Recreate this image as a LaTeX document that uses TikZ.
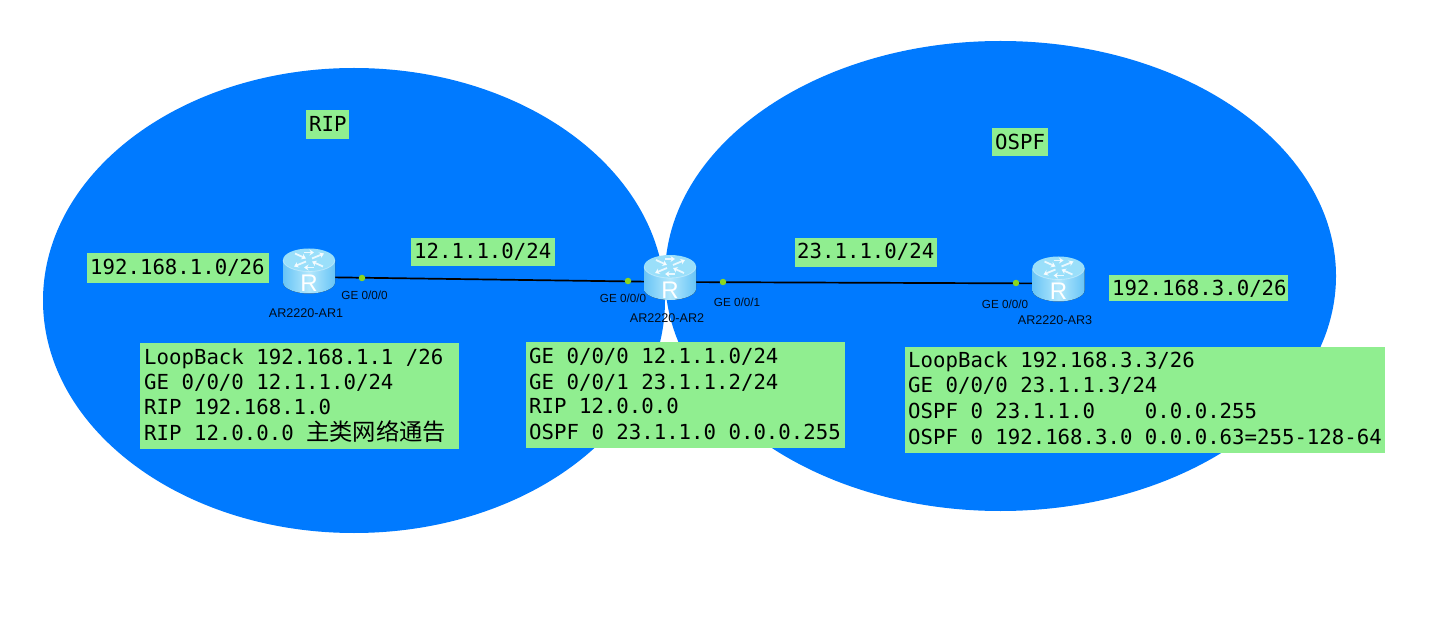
\documentclass[tikz,border=0pt]{standalone}
\usepackage{fontspec}
\usetikzlibrary{arrows.meta}
\setmainfont{Liberation Sans}
\setmonofont{DejaVu Sans Mono}
\newfontfamily\cjk{Noto Sans CJK SC}
\definecolor{zone}{HTML}{007AFF}
\definecolor{lab}{HTML}{90EE90}
\definecolor{dotc}{HTML}{8CD61E}
\definecolor{rtop}{HTML}{9ADFFA}
\definecolor{rside}{HTML}{68C4F6}
\definecolor{rsideb}{HTML}{B4E8FC}
\tikzset{
 x=1pt,y=-1pt,
 labtxt/.style={font=\ttfamily\fontsize{20.7}{26}\selectfont,anchor=base west,inner sep=0pt,text=black,yshift=-1pt},
 port/.style={font=\fontsize{11.7}{12}\selectfont,inner sep=0pt,text=black!90!zone},
 rname/.style={font=\fontsize{12.6}{12}\selectfont,inner sep=0pt,text=black!90!zone},
 pdot/.style={circle,fill=dotc,inner sep=0pt,minimum size=6.5pt},
 link/.style={draw=black,line width=1.7pt},
 rnode/.style={inner sep=0pt,minimum size=1pt},
 rarrow/.style={white,opacity=.8,line width=1.8pt,-{Stealth[length=4.5pt,width=6pt]}},
 pics/routerpic/.style={code={
  \fill[left color=rside,right color=rside,middle color=rsideb]
    (-26,-15) -- (-26,7) .. controls (-26,13) and (-14,18) .. (0,18)
    .. controls (14,18) and (26,13) .. (26,7) -- (26,-15) -- cycle;
  \fill[rtop] (0,-15.5) ellipse[x radius=26,y radius=11.5];
  \draw[white,opacity=.35,line width=.8pt] (-26,-15.5) .. controls (-26,-9) and (-14,-4) .. (0,-4)
    .. controls (14,-4) and (26,-9) .. (26,-15.5);
  \draw[rarrow] (-14,-22) -- (-3,-17);
  \draw[rarrow] (-3,-14) -- (-15,-9);
  \draw[rarrow] (14,-9) -- (3,-14);
  \draw[rarrow] (3,-17) -- (15,-22);
  \draw[rarrow] (-5,-23) -- (5,-23);
  \draw[rarrow] (5,-8) -- (-5,-8);
  \node[white,inner sep=0pt,font=\fontsize{24}{24}\selectfont] at (0,8) {R};
 }}
}
\begin{document}
\begin{tikzpicture}
\useasboundingbox (0,0) rectangle (1446,620);
\fill[white] (0,0) rectangle (1446,620);
\fill[zone] (354,300.5) ellipse[x radius=311,y radius=232.5];
\fill[zone] (1000.5,276) ellipse[x radius=335.5,y radius=235];

\node[rnode] (r1) at (309,277) {};
\node[rnode] (r2) at (670,282) {};
\node[rnode] (r3) at (1058.5,283.5) {};
\draw[link] (r1) -- (r2);
\draw[link] (r2) -- (r3);
\pic[yshift=1.5pt] at (r1) {routerpic};
\pic at (r2) {routerpic};
\pic at (r3) {routerpic};
\node[pdot] (d1) at (362,278) {};
\node[pdot] (d2) at (628,281) {};
\node[pdot] (d3) at (723,282) {};
\node[pdot] (d4) at (1016,283) {};
\node[port] (p1) at (364.5,295) {GE 0/0/0};
\node[port] (p2) at (623,298) {GE 0/0/0};
\node[port] (p3) at (737,302) {GE 0/0/1};
\node[port] (p4) at (1005,304) {GE 0/0/0};
\node[rname] (n1) at (306,313) {AR2220-AR1};
\node[rname] (n2) at (667,318) {AR2220-AR2};
\node[rname] (n3) at (1055,320) {AR2220-AR3};

\fill[lab] (306,110) rectangle (349,139);
\node[labtxt] (t1) at (309,131) {RIP};
\fill[lab] (992,128) rectangle (1048,156);
\node[labtxt] (t2) at (995,149) {OSPF};
\fill[lab] (87,253) rectangle (269,283);
\node[labtxt] (t3) at (90,274) {192.168.1.0/26};
\fill[lab] (411,238) rectangle (555,266);
\node[labtxt] (t4) at (414,258) {12.1.1.0/24};
\fill[lab] (795,238) rectangle (937,267);
\node[labtxt] (t5) at (797,258) {23.1.1.0/24};
\fill[lab] (1109,275) rectangle (1288,301);
\node[labtxt] (t6) at (1112,295) {192.168.3.0/26};

\fill[lab] (140,343) rectangle (459,449);
\node[labtxt] (a1) at (144,363) {LoopBack 192.168.1.1 /26};
\node[labtxt] (a2) at (144,388.5) {GE 0/0/0 12.1.1.0/24};
\node[labtxt] (a3) at (144,413.5) {RIP 192.168.1.0};
\node[labtxt] (a4) at (144,439.5) {RIP 12.0.0.0 {\cjk\fontsize{23.3}{26}\selectfont 主类网络通告}};

\fill[lab] (526,342) rectangle (845,448);
\node[labtxt] (b1) at (529,362) {GE 0/0/0 12.1.1.0/24};
\node[labtxt] (b2) at (529,388) {GE 0/0/1 23.1.1.2/24};
\node[labtxt] (b3) at (529,412.5) {RIP 12.0.0.0};
\node[labtxt] (b4) at (529,438.5) {OSPF 0 23.1.1.0 0.0.0.255};

\fill[lab] (905,347) rectangle (1385,453);
\node[labtxt] (c1) at (908,366) {LoopBack 192.168.3.3/26};
\node[labtxt] (c2) at (908,391.5) {GE 0/0/0 23.1.1.3/24};
\node[labtxt] (c3) at (908,417.5) {OSPF 0 23.1.1.0\ \ \ \ 0.0.0.255};
\node[labtxt] (c4) at (908,443.5) {OSPF 0 192.168.3.0 0.0.0.63=255-128-64};
\end{tikzpicture}
\end{document}
